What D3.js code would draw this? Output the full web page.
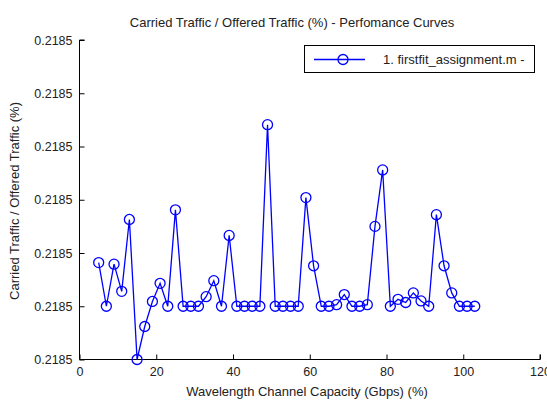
<!DOCTYPE html>
<html>
<head>
<meta charset="utf-8">
<script src="https://cdn.jsdelivr.net/npm/d3@7"></script>
<style>
  html, body { margin: 0; padding: 0; background: #fff; }
  svg { display: block; font-family: "Liberation Sans", Arial, sans-serif; }
</style>
</head>
<body>
<svg id="chart" width="547" height="400"></svg>
<script>
// Wavelength channel capacity (Gbps) for each simulated run
const capacity = [5, 7, 9, 11, 13, 15, 17, 19, 21, 23, 25, 27, 29, 31, 33, 35, 37, 39, 41, 43,
  45, 47, 49, 51, 53, 55, 57, 59, 61, 63, 65, 67, 69, 71, 73, 75, 77, 79, 81, 83,
  85, 87, 89, 91, 93, 95, 97, 99, 101, 103];

// Carried / offered traffic ratio for firstfit_assignment.m
const ratio = [0.21850182, 0.21850100, 0.21850179, 0.21850128, 0.21850263, 0.21850000,
  0.21850062, 0.21850109, 0.21850143, 0.21850100, 0.21850281, 0.21850100, 0.21850100,
  0.21850100, 0.21850118, 0.21850148, 0.21850100, 0.21850233, 0.21850100, 0.21850100,
  0.21850100, 0.21850100, 0.21850441, 0.21850100, 0.21850100, 0.21850100, 0.21850100,
  0.21850304, 0.21850176, 0.21850100, 0.21850100, 0.21850103, 0.21850122, 0.21850100,
  0.21850100, 0.21850103, 0.21850250, 0.21850356, 0.21850100, 0.21850113, 0.21850107,
  0.21850125, 0.21850110, 0.21850100, 0.21850272, 0.21850176, 0.21850125, 0.21850100,
  0.21850100, 0.21850100];

const xTicks = [0, 20, 40, 60, 80, 100, 120];
const yTicks = [0.218500, 0.218501, 0.218502, 0.218503, 0.218504, 0.218505, 0.218506];
const seriesName = "1. firstfit_assignment.m -";

const svg = d3.select("#chart");
const margin = { left: 79.5, right: 540, top: 40, bottom: 359.5 };

const x = d3.scaleLinear().domain([0, 120]).range([margin.left, margin.right]);
const y = d3.scaleLinear().domain([0.218500, 0.218506]).range([margin.bottom, margin.top]);

const textColor = "#222";
const blue = "#0000ff";

// Bottom axis: ticks point into the plot
const gx = svg.append("g")
  .attr("transform", `translate(0,${margin.bottom})`)
  .call(d3.axisBottom(x).tickValues(xTicks).tickSize(-5).tickPadding(8).tickFormat(d3.format("d")));
gx.select(".domain").attr("d", `M${margin.left},0H${margin.right}V-5`).attr("stroke", "#000");

// Left axis
const gy = svg.append("g")
  .attr("transform", `translate(${margin.left},0)`)
  .call(d3.axisLeft(y).tickValues(yTicks).tickSize(-5).tickPadding(7).tickFormat(d3.format(".4f")));
gy.select(".domain").attr("d", `M5,${margin.top}H0V${margin.bottom}`).attr("stroke", "#000");

[gx, gy].forEach(g => {
  g.selectAll(".tick line").attr("stroke", "#000");
  g.selectAll(".tick text").attr("fill", textColor).style("font-size", "12.5px")
    .style("font-family", "'Liberation Sans', Arial, sans-serif");
});

// Series line and markers
const line = d3.line().x((d, i) => x(capacity[i])).y(d => y(d));
svg.append("path")
  .datum(ratio)
  .attr("d", line)
  .attr("fill", "none")
  .attr("stroke", blue)
  .attr("stroke-width", 1.3);

svg.append("g").selectAll("circle")
  .data(ratio)
  .join("circle")
  .attr("cx", (d, i) => x(capacity[i]))
  .attr("cy", d => y(d))
  .attr("r", 5)
  .attr("fill", "none")
  .attr("stroke", blue)
  .attr("stroke-width", 1.3);

// Title and axis labels
svg.append("text")
  .attr("x", 292).attr("y", 27)
  .attr("text-anchor", "middle")
  .attr("fill", textColor)
  .style("font-size", "13px")
  .text("Carried Traffic / Offered Traffic (%) - Perfomance Curves");

svg.append("text")
  .attr("x", 307).attr("y", 396)
  .attr("text-anchor", "middle")
  .attr("fill", textColor)
  .style("font-size", "13px")
  .text("Wavelength Channel Capacity (Gbps) (%)");

svg.append("text")
  .attr("transform", "translate(19,201) rotate(-90)")
  .attr("text-anchor", "middle")
  .attr("fill", textColor)
  .style("font-size", "13px")
  .text("Carried Traffic / Offered Traffic (%)");

// Legend
const lg = svg.append("g");
lg.append("rect")
  .attr("x", 304.5).attr("y", 45.5).attr("width", 230).attr("height", 27)
  .attr("fill", "#fff").attr("stroke", "#000").attr("stroke-width", 1);
lg.append("line")
  .attr("x1", 314).attr("x2", 365).attr("y1", 59.5).attr("y2", 59.5)
  .attr("stroke", blue).attr("stroke-width", 1.3);
lg.append("circle")
  .attr("cx", 343).attr("cy", 59.5).attr("r", 5)
  .attr("fill", "none").attr("stroke", blue).attr("stroke-width", 1.3);
lg.append("text")
  .attr("x", 383).attr("y", 64)
  .attr("fill", textColor)
  .style("font-size", "13px")
  .text(seriesName);
</script>
</body>
</html>
